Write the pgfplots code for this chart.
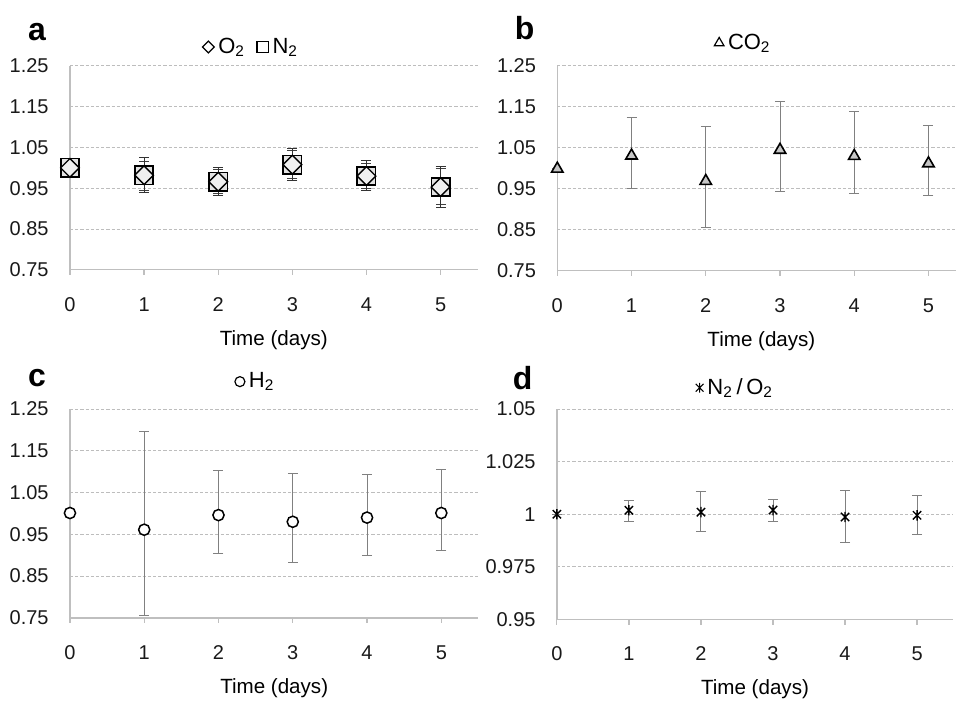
\documentclass[border=0pt]{standalone}
\usepackage{fontspec}
\setmainfont{Liberation Sans}
\usepackage{pgfplots}
\pgfplotsset{compat=1.18}
\definecolor{gridgray}{HTML}{BDBDBD}
\definecolor{axgray}{HTML}{BFBFBF}
\definecolor{errgray}{HTML}{808080}

% Excel-like star: an x with a vertical stroke
\pgfdeclareplotmark{xstar}{%
  \pgfpathmoveto{\pgfqpoint{-0.8\pgfplotmarksize}{-0.8\pgfplotmarksize}}%
  \pgfpathlineto{\pgfqpoint{0.8\pgfplotmarksize}{0.8\pgfplotmarksize}}%
  \pgfpathmoveto{\pgfqpoint{-0.8\pgfplotmarksize}{0.8\pgfplotmarksize}}%
  \pgfpathlineto{\pgfqpoint{0.8\pgfplotmarksize}{-0.8\pgfplotmarksize}}%
  \pgfpathmoveto{\pgfqpoint{0pt}{-\pgfplotmarksize}}%
  \pgfpathlineto{\pgfqpoint{0pt}{\pgfplotmarksize}}%
  \pgfusepathqstroke}

\pgfplotsset{
  panel/.style={
    scale only axis,
    xmin=0, xmax=5.5,
    xtick={0,1,2,3,4,5},
    axis lines*=left,
    axis line style={axgray, line width=0.7pt},
    tick align=outside,
    major tick length=2.5pt,
    xtick style={axgray, line width=0.6pt},
    ytick style={draw=none},
    ymajorgrids,
    grid style={gridgray, line width=0.5pt, dash pattern=on 1.6pt off 1pt},
    tick label style={font=\fontsize{10}{11}\selectfont, text=black!90},
    xticklabel style={inner sep=0pt, anchor=north, yshift=-11pt, text height=7pt, text depth=0pt},
    yticklabel style={inner sep=0pt, anchor=east, xshift=-8pt},
    /pgf/number format/assume math mode=true,
    xlabel={Time (days)},
    xlabel style={at={(axis description cs:0.5,0)}, anchor=center, yshift=-35pt,
                  font=\fontsize{10.3}{12}\selectfont},
    legend style={draw=none, fill=none, font=\fontsize{11}{13}\selectfont,
                  legend columns=-1, anchor=center,
                  /tikz/every even column/.append style={column sep=4pt}},
    legend image code/.code={\draw[mark repeat=2,mark phase=2] plot coordinates {(0cm,0cm) (0.1cm,0cm) (0.2cm,0cm)};},
    clip=false,
  },
  ebar/.style={
    error bars/.cd, y dir=both, y explicit,
    error mark=-,
    error bar style={#1, line width=0.5pt},
    error mark options={rotate=90, #1, line width=0.5pt, mark size=2.5pt},
  },
}

\begin{document}
\begin{tikzpicture}
\begin{scope}[x=0.5pt,y=-0.5pt]
\useasboundingbox (0,0) rectangle (957,701);
\coordinate (A) at (70,270);
\coordinate (B) at (557.7,271);
\coordinate (C) at (70,618.3);
\coordinate (D) at (557.3,620);
\node[font=\fontsize{16}{16}\selectfont\bfseries] at (37,32) {a};
\node[font=\fontsize{16}{16}\selectfont\bfseries] at (525,28) {b};
\node[font=\fontsize{16}{16}\selectfont\bfseries] at (37,378) {c};
\node[font=\fontsize{16}{16}\selectfont\bfseries] at (523,378) {d};
\end{scope}

% ---- a: O2 and N2
\begin{axis}[panel, at={(A)}, anchor=south west,
    width=204pt, height=102pt,
    ymin=0.75, ymax=1.25, ytick={0.75,0.85,0.95,1.05,1.15,1.25},
    yticklabel style={/pgf/number format/.cd, fixed, fixed zerofill, precision=2},
    legend style={at={(axis description cs:0.447,1.093)}},
]
\addlegendimage{only marks, mark=square, mark size=2.1pt, mark options={rotate=45, black, line width=0.6pt}}
\addlegendentry{O\textsubscript{2}}
\addlegendimage{only marks, mark=square, mark size=2.9pt, mark options={black, line width=0.6pt}}
\addlegendentry{N\textsubscript{2}}
\addplot[only marks, mark=square*, mark size=4.6pt,
    mark options={fill=gray!22, draw=black, line width=0.8pt},
    ebar=black!75] coordinates {
  (0,1.000) +- (0,0)
  (1,0.982) += (0,0.034) -= (0,0.037)
  (2,0.966) += (0,0.030) -= (0,0.030)
  (3,1.008) += (0,0.034) -= (0,0.034)
  (4,0.980) += (0,0.030) -= (0,0.030)
  (5,0.953) += (0,0.045) -= (0,0.044)
};
\addplot[only marks, mark=square*, mark size=3.3pt,
    mark options={rotate=45, fill=gray!12, draw=black, line width=0.7pt},
    ebar=black!80] coordinates {
  (0,1.000) +- (0,0)
  (1,0.982) += (0,0.043) -= (0,0.042)
  (2,0.966) += (0,0.035) -= (0,0.034)
  (3,1.008) += (0,0.040) -= (0,0.039)
  (4,0.980) += (0,0.038) -= (0,0.036)
  (5,0.953) += (0,0.050) -= (0,0.049)
};
\end{axis}

% ---- b: CO2 (right part cut by the page edge)
\begin{axis}[panel, at={(B)}, anchor=south west,
    width=199.65pt, height=102.5pt, xmax=5.375,
    ymin=0.75, ymax=1.25, ytick={0.75,0.85,0.95,1.05,1.15,1.25},
    yticklabel style={/pgf/number format/.cd, fixed, fixed zerofill, precision=2},
    xlabel style={at={(axis description cs:0.5116,0)}},
    legend style={at={(axis description cs:0.469,1.112)}},
]
\addlegendimage{only marks, mark=triangle, mark size=2.8pt, mark options={black, line width=0.6pt}}
\addlegendentry{CO\textsubscript{2}}
\addplot[only marks, mark=triangle*, mark size=3.3pt,
    mark options={fill=gray!45, draw=black, line width=0.8pt},
    ebar=errgray] coordinates {
  (0,0.999) +- (0,0)
  (1,1.031) += (0,0.094) -= (0,0.079)
  (2,0.969) += (0,0.134) -= (0,0.114)
  (3,1.045) += (0,0.119) -= (0,0.101)
  (4,1.030) += (0,0.109) -= (0,0.092)
  (5,1.012) += (0,0.093) -= (0,0.078)
};
\end{axis}

% ---- c: H2
\begin{axis}[panel, at={(C)}, anchor=south west,
    width=204.4pt, height=104.5pt,
    ymin=0.75, ymax=1.25, ytick={0.75,0.85,0.95,1.05,1.15,1.25},
    yticklabel style={/pgf/number format/.cd, fixed, fixed zerofill, precision=2},
    legend style={at={(axis description cs:0.457,1.131)}},
]
\addlegendimage{only marks, mark=o, mark size=2.5pt, mark options={black, line width=0.6pt}}
\addlegendentry{H\textsubscript{2}}
\addplot[only marks, mark=*, mark size=2.8pt,
    mark options={fill=white, draw=black, line width=0.75pt},
    ebar=errgray] coordinates {
  (0,1.001) +- (0,0)
  (1,0.961) += (0,0.236) -= (0,0.205)
  (2,0.996) += (0,0.106) -= (0,0.092)
  (3,0.980) += (0,0.115) -= (0,0.098)
  (4,0.990) += (0,0.103) -= (0,0.090)
  (5,1.001) += (0,0.104) -= (0,0.089)
};
\end{axis}

% ---- d: N2/O2
\begin{axis}[panel, at={(D)}, anchor=south west,
    width=198.25pt, height=105.35pt,
    ymin=0.95, ymax=1.05, ytick={0.95,0.975,1,1.025,1.05},
    yticklabel style={/pgf/number format/.cd, fixed, precision=3},
    legend style={at={(axis description cs:0.453,1.101)}},
]
\addlegendimage{only marks, mark=xstar, mark size=2.4pt, mark options={black, line width=0.6pt}}
\addlegendentry{N\textsubscript{2}\,/\,O\textsubscript{2}}
\addplot[only marks, mark=xstar, mark size=2.6pt,
    mark options={draw=black, line width=0.7pt},
    ebar=errgray] coordinates {
  (0,1.0000) +- (0,0)
  (1,1.0019) += (0,0.0047) -= (0,0.0054)
  (2,1.0010) += (0,0.0098) -= (0,0.0094)
  (3,1.0020) += (0,0.0050) -= (0,0.0053)
  (4,0.9987) += (0,0.0126) -= (0,0.0120)
  (5,0.9995) += (0,0.0092) -= (0,0.0093)
};
\end{axis}
\end{tikzpicture}
\end{document}
